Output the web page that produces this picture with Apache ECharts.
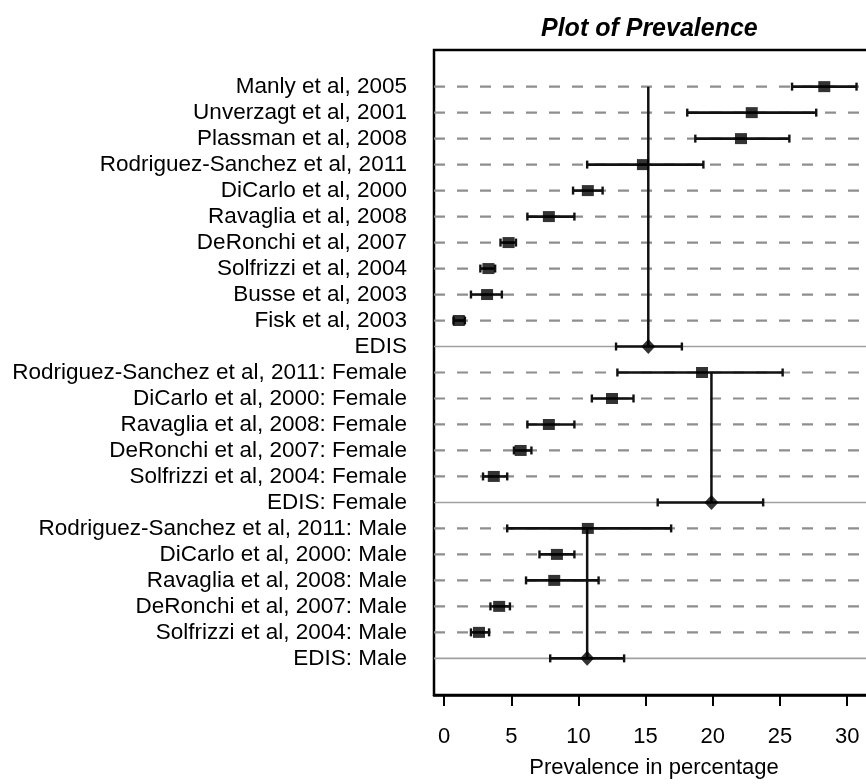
<!DOCTYPE html>
<html>
<head>
<meta charset="utf-8">
<script src="https://cdn.jsdelivr.net/npm/echarts@6/dist/echarts.min.js"></script>
<style>html,body{margin:0;padding:0;background:#fff;}#chart{width:866px;height:784px;}</style>
</head>
<body>
<div id="chart"></div>
<script>
const studies = [
  'Manly et al, 2005',
  'Unverzagt et al, 2001',
  'Plassman et al, 2008',
  'Rodriguez-Sanchez et al, 2011',
  'DiCarlo et al, 2000',
  'Ravaglia et al, 2008',
  'DeRonchi et al, 2007',
  'Solfrizzi et al, 2004',
  'Busse et al, 2003',
  'Fisk et al, 2003',
  'EDIS',
  'Rodriguez-Sanchez et al, 2011: Female',
  'DiCarlo et al, 2000: Female',
  'Ravaglia et al, 2008: Female',
  'DeRonchi et al, 2007: Female',
  'Solfrizzi et al, 2004: Female',
  'EDIS: Female',
  'Rodriguez-Sanchez et al, 2011: Male',
  'DiCarlo et al, 2000: Male',
  'Ravaglia et al, 2008: Male',
  'DeRonchi et al, 2007: Male',
  'Solfrizzi et al, 2004: Male',
  'EDIS: Male'
];
const estimate = [28.3, 22.9, 22.1, 14.8, 10.7, 7.8, 4.8, 3.3, 3.2, 1.1, 15.2,
                  19.2, 12.5, 7.8, 5.7, 3.7, 19.9,
                  10.7, 8.4, 8.2, 4.1, 2.6, 10.65];
const lower = [25.9, 18.1, 18.7, 10.65, 9.6, 6.2, 4.2, 2.7, 2.0, 0.7, 12.8,
               12.9, 11.0, 6.2, 5.2, 2.9, 15.9,
               4.7, 7.1, 6.1, 3.45, 2.0, 7.9];
const upper = [30.7, 27.7, 25.7, 19.3, 11.8, 9.7, 5.35, 3.8, 4.3, 1.55, 17.7,
               25.2, 14.1, 9.7, 6.5, 4.7, 23.75,
               16.9, 9.7, 11.5, 4.9, 3.35, 13.4];
const isSummary = [0,0,0,0,0,0,0,0,0,0,1, 0,0,0,0,0,1, 0,0,0,0,0,1];
// pooled groups: first row, summary row, pooled value
const groupFirst = [0, 11, 17];
const groupLast = [10, 16, 22];
const groupPooled = [15.2, 19.9, 10.65];
const xTicks = [0, 5, 10, 15, 20, 25, 30];

const rows = studies.map((s, i) => i);
const font = '"Liberation Sans", Arial, sans-serif';

const chart = echarts.init(document.getElementById('chart'));
chart.setOption({
  animation: false,
  backgroundColor: '#fff',
  title: {
    text: 'Plot of Prevalence',
    left: 536, top: 12,
    textStyle: { fontFamily: font, fontSize: 25, fontWeight: 'bold', fontStyle: 'italic', color: '#000' }
  },
  grid: {
    left: 434, top: 50, width: 440, bottom: 89,
    outerBoundsMode: 'none',
    show: true, borderColor: '#000', borderWidth: 2.5, backgroundColor: 'transparent'
  },
  xAxis: {
    type: 'value', min: -0.75, max: 32,
    axisLine: { show: true, onZero: false, lineStyle: { color: '#000', width: 2.5 } },
    axisTick: { show: true, customValues: xTicks, length: 11, lineStyle: { color: '#000', width: 2 } },
    axisLabel: { customValues: xTicks, margin: 31, fontFamily: font, fontSize: 22, color: '#000' },
    splitLine: { show: false },
    name: 'Prevalence in percentage', nameLocation: 'middle', nameGap: 62,
    nameTextStyle: { fontFamily: font, fontSize: 22, color: '#000' }
  },
  yAxis: {
    type: 'value', inverse: true, min: -1.41, max: 23.41,
    axisLine: { show: false },
    axisTick: { show: false },
    splitLine: { show: false },
    axisLabel: {
      customValues: rows, margin: 27, fontFamily: font, fontSize: 22.5, color: '#000',
      formatter: v => studies[Math.round(v)]
    }
  },
  series: [
    {
      type: 'custom', silent: true, z: 1,
      data: rows.map(i => [i, isSummary[i]]),
      renderItem: (params, api) => {
        const r = api.value(0);
        const p1 = api.coord([-0.75, r]);
        const p2 = api.coord([32, r]);
        const summ = api.value(1) === 1;
        return {
          type: 'line',
          shape: { x1: p1[0], y1: p1[1], x2: p2[0], y2: p2[1] },
          style: summ ? { stroke: '#a0a0a0', lineWidth: 1.6 }
                      : { stroke: '#8e8e8e', lineWidth: 2.2, lineDash: [11, 12] }
        };
      }
    },
    {
      type: 'custom', silent: true, z: 2,
      data: groupPooled.map((x, g) => [x, groupFirst[g], groupLast[g]]),
      renderItem: (params, api) => {
        const a = api.coord([api.value(0), api.value(1)]);
        const b = api.coord([api.value(0), api.value(2)]);
        return {
          type: 'line',
          shape: { x1: a[0], y1: a[1], x2: b[0], y2: b[1] },
          style: { stroke: '#111', lineWidth: 2.5 }
        };
      }
    },
    {
      type: 'custom', silent: true, z: 3,
      data: rows.map(i => [lower[i], upper[i], i]),
      renderItem: (params, api) => {
        const l = api.coord([api.value(0), api.value(2)]);
        const u = api.coord([api.value(1), api.value(2)]);
        const h = 4;
        return {
          type: 'group',
          children: [
            { type: 'line', shape: { x1: l[0], y1: l[1], x2: u[0], y2: u[1] }, style: { stroke: '#111', lineWidth: 2.6 } },
            { type: 'line', shape: { x1: l[0], y1: l[1] - h, x2: l[0], y2: l[1] + h }, style: { stroke: '#111', lineWidth: 2.4 } },
            { type: 'line', shape: { x1: u[0], y1: u[1] - h, x2: u[0], y2: u[1] + h }, style: { stroke: '#111', lineWidth: 2.4 } }
          ]
        };
      }
    },
    {
      type: 'scatter', silent: true, z: 4,
      symbol: 'rect', symbolSize: [12, 11],
      itemStyle: { color: '#000' },
      data: rows.filter(i => !isSummary[i]).map(i => [estimate[i], i])
    },
    {
      type: 'scatter', silent: true, z: 4,
      symbol: 'diamond', symbolSize: [14, 15],
      itemStyle: { color: '#000' },
      data: rows.filter(i => isSummary[i]).map(i => [estimate[i], i])
    }
  ]
});
</script>
</body>
</html>
